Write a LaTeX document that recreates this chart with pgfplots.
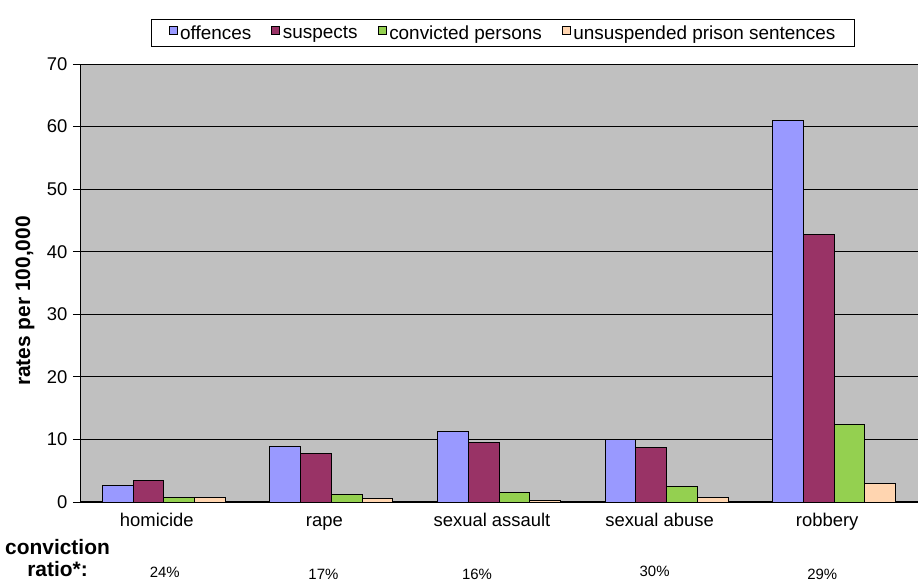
\documentclass[border=0pt]{standalone}
\usepackage{pgfplots}
\pgfplotsset{compat=1.18}
\usepackage{fontspec}
\setmainfont{Liberation Sans}
\definecolor{cOff}{HTML}{9999FF}
\definecolor{cSus}{HTML}{993366}
\definecolor{cCon}{HTML}{94D050}
\definecolor{cPri}{HTML}{FFD5B0}
\definecolor{cBg}{HTML}{C0C0C0}
\begin{document}
\begin{tikzpicture}
\path[use as bounding box] (0,0) rectangle (921bp,583bp);
\begin{axis}[
  at={(80bp,81bp)}, anchor=south west,
  scale only axis, width=838bp, height=438bp,
  xmin=-0.5, xmax=4.5, ymin=0, ymax=70,
  axis x line*=bottom, axis y line*=left,
  x axis line style={line width=1.8pt, -},
  y axis line style={line width=1pt, -},
  axis background/.style={fill=cBg},
  ytick={0,10,...,70},
  ymajorgrids, grid style={black, line width=0.8pt},
  ytick style={black, line width=0.8pt},
  tick align=outside,
  major tick length=7bp,
  xtick={0,1,2,3,4},
  xticklabels={homicide, rape, sexual assault, sexual abuse, robbery},
  xtick style={draw=none},
  extra x ticks={-0.5,0.5,1.5,2.5,3.5,4.5},
  extra x tick labels={},
  extra x tick style={xtick style={black, line width=1pt}, major tick length=7bp, grid=none},
  every tick label/.append style={font=\fontsize{18.5}{22}\selectfont},
  /pgf/number format/assume math mode=true,
  xticklabel style={yshift=-7bp, xshift=-7bp, text height=0.72em, text depth=0.22em},
  yticklabel style={xshift=-2bp},
  ybar, bar width=0.1835,
  clip=false,
  legend columns=4,
  legend style={at={(0.5,1)}, anchor=south, yshift=17bp, xshift=4bp, draw=black, line width=0.8pt,
    font=\fontsize{19}{22}\selectfont, inner xsep=17bp, inner ysep=4bp,
    nodes={inner xsep=2bp, inner ysep=2bp},
    /tikz/every odd column/.append style={column sep=1bp},
    /tikz/every even column/.append style={column sep=18bp}},
  legend image code/.code={\draw[#1, line width=0.6pt, draw=black] (0bp,-1bp) rectangle (8bp,7bp);},
]
\addplot[fill=cOff, draw=black, line width=1pt, bar shift=-0.27525] coordinates {(0,2.7) (1,8.8) (2,11.2) (3,10.0) (4,61.0)};
\addplot[fill=cSus, draw=black, line width=1pt, bar shift=-0.09175] coordinates {(0,3.4) (1,7.7) (2,9.5) (3,8.7) (4,42.8)};
\addplot[fill=cCon, draw=black, line width=1pt, bar shift=0.09175] coordinates {(0,0.7) (1,1.2) (2,1.5) (3,2.5) (4,12.4)};
\addplot[fill=cPri, draw=black, line width=1pt, bar shift=0.27525] coordinates {(0,0.7) (1,0.5) (2,0.2) (3,0.7) (4,2.9)};
\legend{offences, suspects, convicted persons, unsuspended prison sentences}
\node[font=\fontsize{15}{17}\selectfont] at (axis cs:0,0) [yshift=-70bp, xshift=1bp] {24\%};
\node[font=\fontsize{15}{17}\selectfont] at (axis cs:1,0) [yshift=-72bp, xshift=-8bp] {17\%};
\node[font=\fontsize{15}{17}\selectfont] at (axis cs:2,0) [yshift=-72bp, xshift=-22bp] {16\%};
\node[font=\fontsize{15}{17}\selectfont] at (axis cs:3,0) [yshift=-69bp, xshift=-12bp] {30\%};
\node[font=\fontsize{15}{17}\selectfont] at (axis cs:4,0) [yshift=-72bp, xshift=-12bp] {29\%};
\end{axis}
\node[font=\fontsize{21}{25}\selectfont\bfseries, rotate=90] at (25bp,282bp) {rates per 100,000};
\node[font=\fontsize{21}{23}\selectfont\bfseries, align=center, inner sep=0pt] at (57.5bp,25bp) {conviction\\ratio*:};
\end{tikzpicture}
\end{document}
